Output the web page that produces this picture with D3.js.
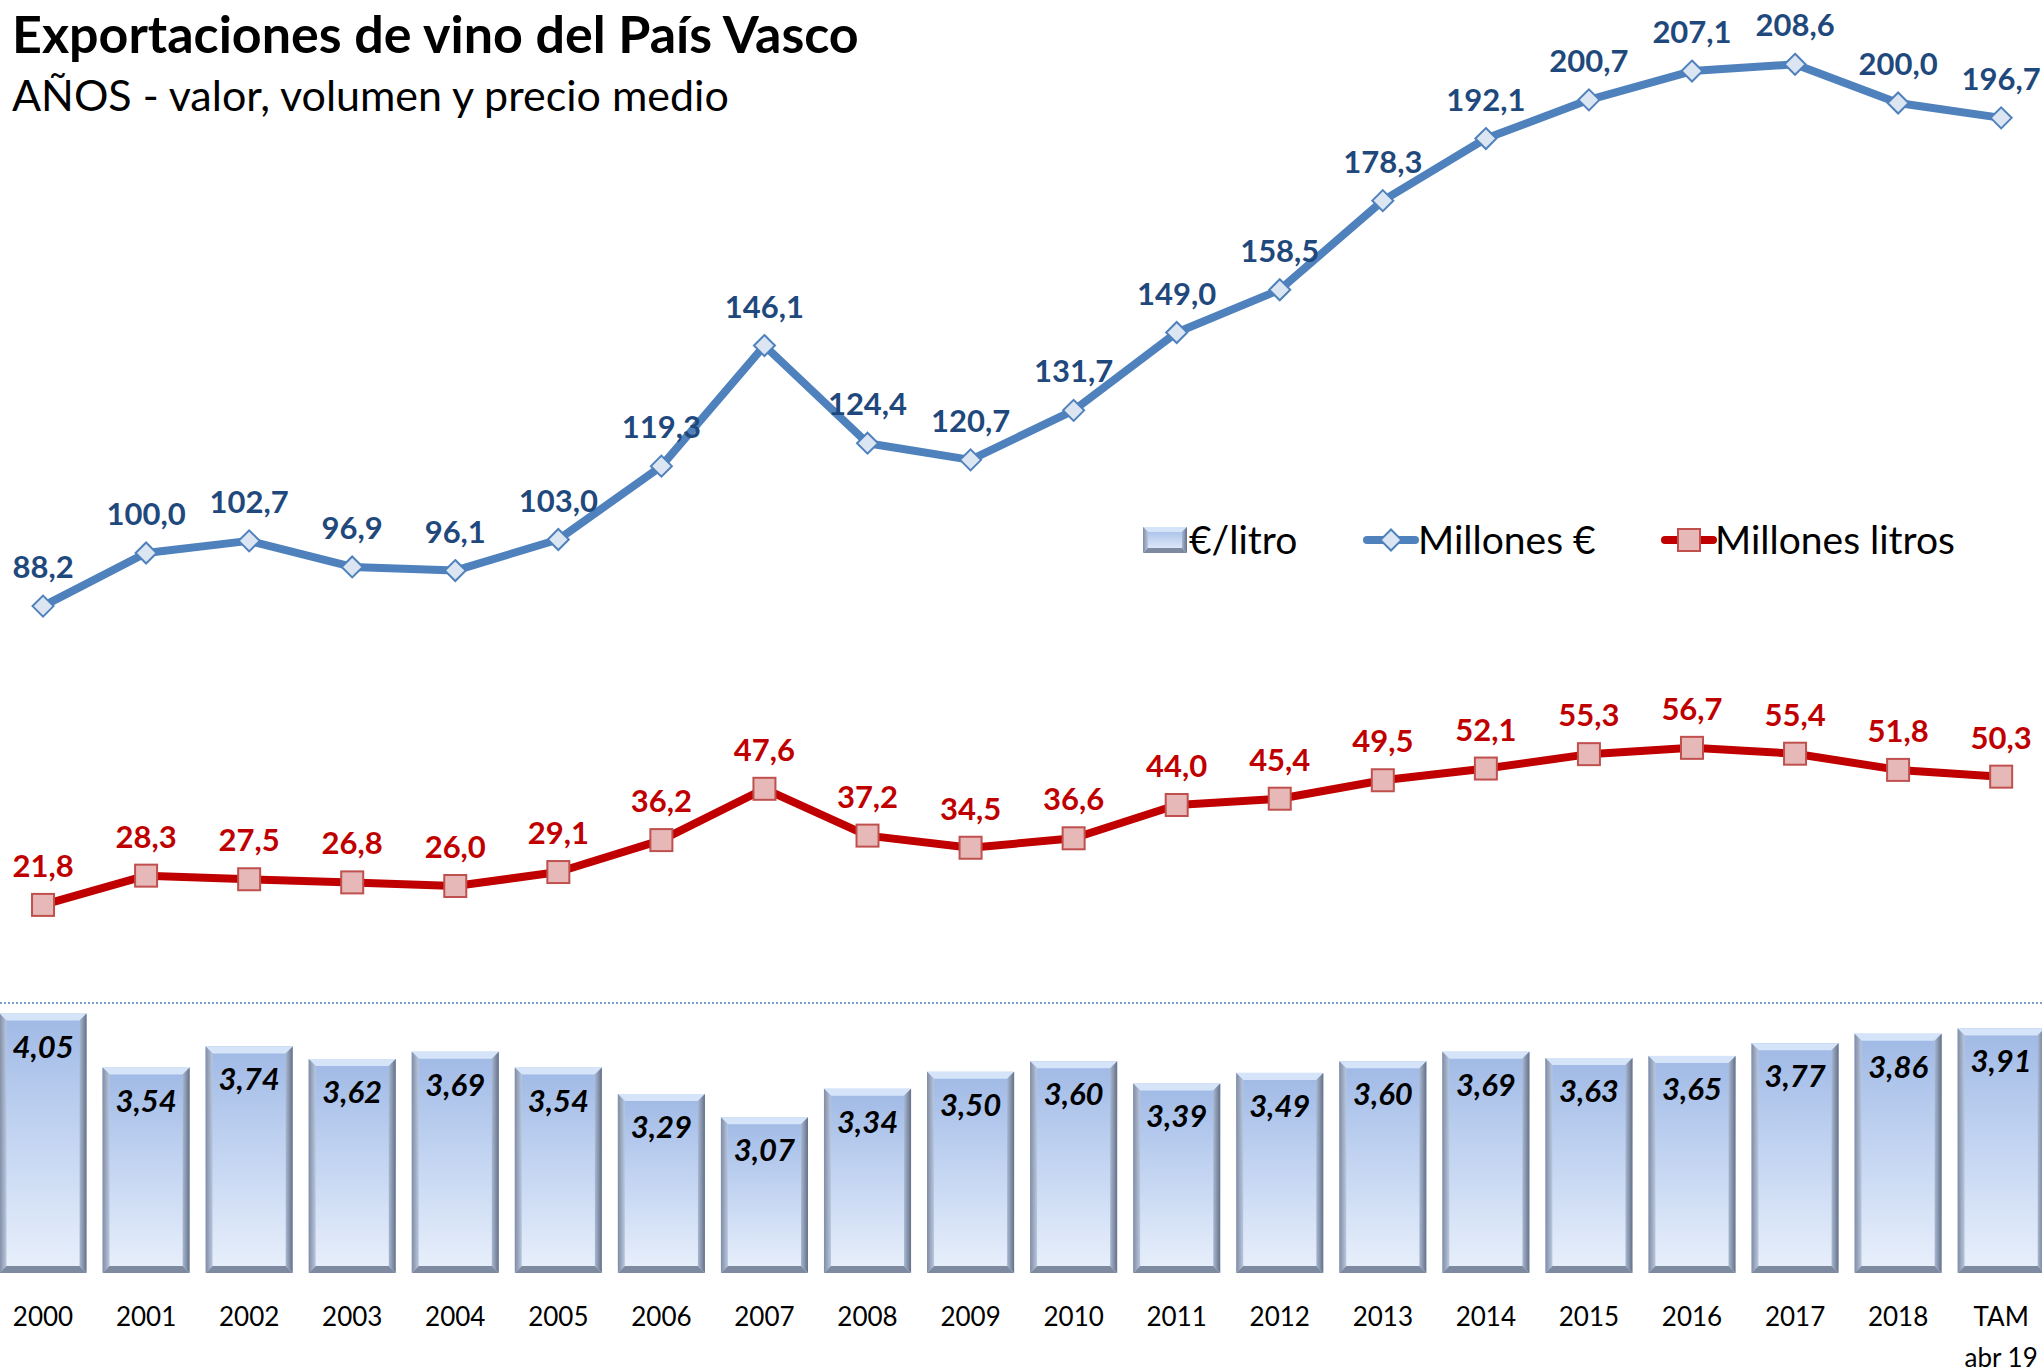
<!DOCTYPE html>
<html>
<head>
<meta charset="utf-8">
<script src="https://cdn.jsdelivr.net/npm/d3@7"></script>
<style>
  body { margin: 0; background: #fff; }
  svg { display: block; font-family: Lato, "Open Sans", sans-serif; }
</style>
</head>
<body>
<div id="chart"></div>
<script>
// datos
const categories = ['2000','2001','2002','2003','2004','2005','2006','2007','2008','2009',
  '2010','2011','2012','2013','2014','2015','2016','2017','2018','TAM'];
const tickSub = { 'TAM': 'abr 19' };
const millonesEuro = [88.2,100.0,102.7,96.9,96.1,103.0,119.3,146.1,124.4,120.7,
  131.7,149.0,158.5,178.3,192.1,200.7,207.1,208.6,200.0,196.7];
const millonesLitros = [21.8,28.3,27.5,26.8,26.0,29.1,36.2,47.6,37.2,34.5,
  36.6,44.0,45.4,49.5,52.1,55.3,56.7,55.4,51.8,50.3];
const euroLitro = [4.05,3.54,3.74,3.62,3.69,3.54,3.29,3.07,3.34,3.50,
  3.60,3.39,3.49,3.60,3.69,3.63,3.65,3.77,3.86,3.91];

const W = 2042, H = 1372;
const fmt = (v, d) => v.toFixed(d).replace('.', ',');

const svg = d3.select('#chart').append('svg')
  .attr('width', W).attr('height', H);

const defs = svg.append('defs');
const g1 = defs.append('linearGradient').attr('id', 'barFill')
  .attr('x1', 0).attr('y1', 0).attr('x2', 0).attr('y2', 1);
g1.append('stop').attr('offset', '0%').attr('stop-color', '#9fb9e5');
g1.append('stop').attr('offset', '45%').attr('stop-color', '#c1d3f1');
g1.append('stop').attr('offset', '100%').attr('stop-color', '#e9f0fb');
const gl = defs.append('linearGradient').attr('id', 'edgeL')
  .attr('x1', 0).attr('y1', 0).attr('x2', 1).attr('y2', 0);
gl.append('stop').attr('offset', '0%').attr('stop-color', '#7f8ca3');
gl.append('stop').attr('offset', '100%').attr('stop-color', '#b9c7df');
const gr = defs.append('linearGradient').attr('id', 'edgeR')
  .attr('x1', 0).attr('y1', 0).attr('x2', 1).attr('y2', 0);
gr.append('stop').attr('offset', '0%').attr('stop-color', '#a9b8d2');
gr.append('stop').attr('offset', '100%').attr('stop-color', '#647187');

// escalas
const x = d3.scaleBand().domain(categories)
  .range([-8.5, 2052.7]).paddingInner(0.155).paddingOuter(0.0775);
const yL = d3.scaleLinear().domain([-60, 220]).range([1273, 13]);
const yR = d3.scaleLinear().domain([1.6, 4.2]).range([1273, 997.7]);
const cx = d => x(d) + x.bandwidth() / 2;

// titulos
svg.append('text').attr('x', 12).attr('y', 53)
  .attr('font-size', 52).attr('font-weight', 700).attr('fill', '#000')
  .text('Exportaciones de vino del País Vasco');
svg.append('text').attr('x', 12).attr('y', 111)
  .attr('font-size', 43).attr('fill', '#000')
  .text('AÑOS - valor, volumen y precio medio');

// barras biseladas
function bevelBar(g, bx, by, bw, bh, b) {
  g.append('rect').attr('x', bx).attr('y', by).attr('width', bw).attr('height', bh)
    .attr('fill', 'url(#barFill)');
  const poly = (pts, fill) => g.append('polygon')
    .attr('points', pts.map(p => p.join(',')).join(' ')).attr('fill', fill);
  poly([[bx, by], [bx + bw, by], [bx + bw - b, by + b], [bx + b, by + b]], '#d5e4f8');
  poly([[bx, by], [bx + b, by + b], [bx + b, by + bh - b], [bx, by + bh]], 'url(#edgeL)');
  poly([[bx + bw, by], [bx + bw - b, by + b], [bx + bw - b, by + bh - b], [bx + bw, by + bh]], 'url(#edgeR)');
  poly([[bx, by + bh], [bx + b, by + bh - b], [bx + bw - b, by + bh - b], [bx + bw, by + bh]], '#7d8aa0');
}

const bars = svg.append('g');
categories.forEach((c, i) => {
  const gb = bars.append('g');
  bevelBar(gb, x(c), yR(euroLitro[i]), x.bandwidth(), yR.range()[0] - yR(euroLitro[i]), 7);
});
bars.selectAll('text.bl').data(categories).join('text')
  .attr('class', 'bl')
  .attr('x', d => cx(d))
  .attr('y', (d, i) => yR(euroLitro[i]) + 44)
  .attr('text-anchor', 'middle')
  .attr('font-size', 31).attr('font-weight', 700).attr('font-style', 'italic')
  .attr('fill', '#000')
  .text((d, i) => fmt(euroLitro[i], 2));

// eje cero (punteado)
svg.append('line')
  .attr('x1', 0).attr('x2', W)
  .attr('y1', yL(0)).attr('y2', yL(0))
  .attr('stroke', '#4f81bd').attr('stroke-width', 1.5)
  .attr('stroke-dasharray', '2,2');

// eje x
const xAxis = svg.append('g')
  .attr('transform', `translate(0, ${yL.range()[0]})`)
  .call(d3.axisBottom(x).tickSize(0).tickPadding(0));
xAxis.select('.domain').remove();
xAxis.selectAll('.tick text').remove();
xAxis.selectAll('.tick').append('text')
  .attr('y', 53).attr('text-anchor', 'middle')
  .attr('font-size', 26).attr('fill', '#000')
  .attr('font-family', 'Lato, sans-serif')
  .text(d => d);
xAxis.selectAll('.tick').filter(d => tickSub[d]).append('text')
  .attr('y', 94).attr('text-anchor', 'middle')
  .attr('font-size', 26).attr('fill', '#000')
  .attr('font-family', 'Lato, sans-serif')
  .text(d => tickSub[d]);

// lineas
function drawSeries(values, color, labelColor, shape) {
  const line = d3.line().x((d, i) => cx(categories[i])).y(d => yL(d));
  svg.append('path').datum(values)
    .attr('fill', 'none').attr('stroke', color).attr('stroke-width', 8)
    .attr('stroke-linejoin', 'round').attr('d', line);
  const m = svg.append('g');
  values.forEach((v, i) => {
    drawMarker(m, cx(categories[i]), yL(v), shape);
  });
  svg.append('g').selectAll('text').data(values).join('text')
    .attr('x', (d, i) => cx(categories[i]))
    .attr('y', d => yL(d) - 28)
    .attr('text-anchor', 'middle')
    .attr('font-size', 31).attr('font-weight', 700)
    .attr('fill', labelColor)
    .text(d => fmt(d, 1));
}

function drawMarker(g, px, py, shape) {
  if (shape === 'diamond') {
    const s = 10.5;
    g.append('polygon')
      .attr('points', `${px},${py - s} ${px + s},${py} ${px},${py + s} ${px - s},${py}`)
      .attr('fill', '#dce6f2').attr('stroke', '#4f81bd').attr('stroke-width', 2);
  } else {
    const s = 11;
    g.append('rect').attr('x', px - s).attr('y', py - s)
      .attr('width', 2 * s).attr('height', 2 * s)
      .attr('fill', '#e6b9b8').attr('stroke', '#c0504d').attr('stroke-width', 2);
  }
}

drawSeries(millonesEuro, '#4f81bd', '#1f497d', 'diamond');
drawSeries(millonesLitros, '#c00000', '#c00000', 'square');

// leyenda
const legend = svg.append('g');
const lgY = 540;
bevelBar(legend.append('g'), 1143, lgY - 13, 44, 26, 5);
legend.append('text').attr('x', 1189).attr('y', lgY + 14)
  .attr('font-size', 39).text('€/litro');
legend.append('line').attr('x1', 1367).attr('x2', 1415)
  .attr('y1', lgY).attr('y2', lgY)
  .attr('stroke', '#4f81bd').attr('stroke-width', 8).attr('stroke-linecap', 'round');
drawMarker(legend, 1391, lgY, 'diamond');
legend.append('text').attr('x', 1418).attr('y', lgY + 14)
  .attr('font-size', 39).text('Millones €');
legend.append('line').attr('x1', 1665).attr('x2', 1713)
  .attr('y1', lgY).attr('y2', lgY)
  .attr('stroke', '#c00000').attr('stroke-width', 8).attr('stroke-linecap', 'round');
drawMarker(legend, 1689, lgY, 'square');
legend.append('text').attr('x', 1715).attr('y', lgY + 14)
  .attr('font-size', 39).text('Millones litros');
</script>
</body>
</html>
